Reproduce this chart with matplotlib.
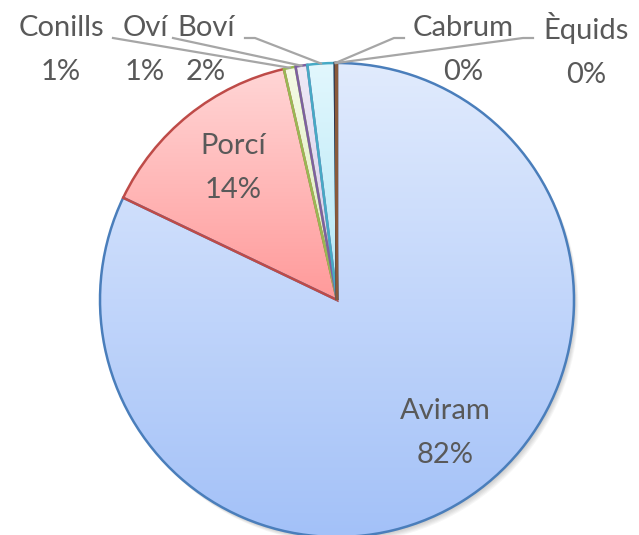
import matplotlib
matplotlib.use('Agg')
import matplotlib.pyplot as plt
import numpy as np
from matplotlib.colors import LinearSegmentedColormap
from matplotlib.patches import Circle

labels = ['Aviram', 'Porcí', 'Conills', 'Oví', 'Boví', 'Cabrum', 'Èquids']
values = [82.1, 14.3, 0.8, 0.8, 1.85, 0.08, 0.07]
pct_text = ['82%', '14%', '1%', '1%', '2%', '0%', '0%']

# gradient fill (top colour, bottom colour) and outline per slice
top_colors = ['#e1ebfd', '#ffd6d6', '#f4fae6', '#eee9f6', '#e2f7fd', '#c9d3e3', '#fde3cf']
bottom_colors = ['#a3c1f8', '#ff9a9a', '#d9ecb4', '#d5c9e8', '#b3e7f5', '#8ea2c4', '#f9b98a']
edge_colors = ['#4a7ebb', '#be4b48', '#98b954', '#7d60a0', '#46aac5', '#2c3550', '#8a5a3a']

px_c, py_c, rad = 337, 300, 237
W, H = 639, 535

fig = plt.figure(figsize=(W / 100, H / 100), dpi=100)
ax = fig.add_axes([0, 0, 1, 1])

def to_data(px, py):
    return (px - px_c) / rad, (py_c - py) / rad

def set_lims():
    ax.set_xlim((0 - px_c) / rad, (W - px_c) / rad)
    ax.set_ylim((py_c - H) / rad, py_c / rad)
    ax.set_aspect('equal')
    ax.axis('off')

# soft shadow
for k in range(6):
    ax.add_patch(Circle((0.004 + k * 0.003, -0.006 - k * 0.004), 1.0,
                        color='#000000', alpha=0.035, lw=0, zorder=1))

wedges, _ = ax.pie(values, startangle=90, counterclock=False, radius=1,
                   wedgeprops=dict(linewidth=1.8))

grad = np.linspace(0, 1, 256).reshape(-1, 1)
for i, w in enumerate(wedges):
    w.set_facecolor('none')
    w.set_edgecolor(edge_colors[i])
    w.set_zorder(3)
    th = np.radians(np.linspace(w.theta1, w.theta2, 100))
    xs = np.concatenate([[0], np.cos(th)])
    ys = np.concatenate([[0], np.sin(th)])
    cmap = LinearSegmentedColormap.from_list('g%d' % i, [top_colors[i], bottom_colors[i]])
    im = ax.imshow(grad, cmap=cmap, aspect='auto', origin='upper',
                   extent=[xs.min(), xs.max() + 1e-3, ys.min(), ys.max() + 1e-3], zorder=2)
    im.set_clip_path(w)
# white base under the gradients so the shadow does not bleed through
ax.add_patch(Circle((0, 0), 1.0, color='white', lw=0, zorder=1.5))

set_lims()

txt = dict(color='#595959', fontsize=21, family='Lato', ha='center', va='center',
           linespacing=1.85, zorder=5)

# inside labels
inside_pos = [(445, 433), (233, 168)]
for i, (px, py) in enumerate(inside_pos):
    x, y = to_data(px, py)
    ax.text(x, y, labels[i] + '\n' + pct_text[i], **txt)

# outside labels with leader lines
outside_pos = [(61, 50), (145, 50), (206, 50), (463, 50), (586, 50)]
line_start = [(113, 38), (173, 38), (245, 38), (404, 38), (533, 38)]
line_bend = [(113, 38), (173, 38), (255, 38), (394, 38), (523, 38)]
for k, i in enumerate(range(2, 7)):
    px, py = outside_pos[k]
    x, y = to_data(px, py)
    ax.text(x, y, labels[i] + '\n' + pct_text[i], **txt)
    w = wedges[i]
    mid = np.radians((w.theta1 + w.theta2) / 2)
    ex, ey = np.cos(mid), np.sin(mid)
    sx, sy = to_data(*line_start[k])
    bx, by = to_data(*line_bend[k])
    ax.plot([sx, bx, ex], [sy, by, ey], color='#a6a6a6', lw=1.6, zorder=4)

fig.savefig('out.png', dpi=100, facecolor='white')
